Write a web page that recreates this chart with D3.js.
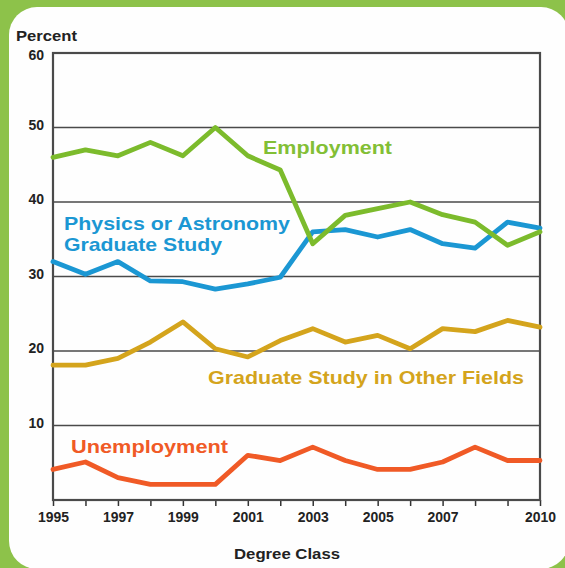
<!DOCTYPE html>
<html><head><meta charset="utf-8">
<script src="https://cdn.jsdelivr.net/npm/d3@7"></script>
<style>body{margin:0;background:#8dc24a;}svg{display:block;}</style>
</head><body>
<svg id="c" width="565" height="568"></svg>
<script>
const years = [1995,1996,1997,1998,1999,2000,2001,2002,2003,2004,2005,2006,2007,2008,2009,2010];
const employment = [46,47,46.2,48,46.2,50,46.2,44.3,34.4,38.2,39.1,40,38.3,37.3,34.2,36];
const physicsGrad = [32,30.3,32,29.4,29.3,28.3,29,29.9,36,36.3,35.3,36.3,34.4,33.8,37.3,36.5];
const otherGrad = [18.1,18.1,19,21.2,23.9,20.3,19.2,21.4,23,21.2,22.1,20.3,23,22.6,24.1,23.2];
const unemployment = [4.1,5.1,3,2.1,2.1,2.1,6,5.3,7.1,5.3,4.1,4.1,5.1,7.1,5.3,5.3];
const yTicks = [10,20,30,40,50,60];
const xTickLabels = [1995,1997,1999,2001,2003,2005,2007,2010];

const svg = d3.select("#c");
svg.append("rect").attr("width",565).attr("height",568).attr("fill","#8dc24a");
svg.append("rect").attr("x",9).attr("y",7).attr("width",560).attr("height",562).attr("rx",28).attr("fill","#fefefe");

const L=53,R=540,T=53,B=500;
const x = d3.scaleLinear().domain([1995,2010]).range([L,R]);
const y = d3.scaleLinear().domain([0,60]).range([B,T]);
const font = "'Liberation Sans', Arial, Helvetica, sans-serif";

// gridlines
svg.append("g").selectAll("line").data(yTicks.filter(d=>d<60)).join("line")
  .attr("x1",L).attr("x2",R).attr("y1",d=>y(d)).attr("y2",d=>y(d))
  .attr("stroke","#4a4a4a").attr("stroke-width",1.6);

// y labels
svg.append("g").selectAll("text").data(yTicks).join("text")
  .attr("x",44).attr("y",d=>y(d)+(d===60?7:2)).attr("text-anchor","end")
  .attr("font-family",font).attr("font-weight","bold").attr("font-size",14)
  .attr("fill","#222").text(d=>d);

// x axis ticks
const xAxis = d3.axisBottom(x).tickValues(years).tickSize(6).tickFormat(d=>xTickLabels.includes(d)?d:"");
const gx = svg.append("g").attr("transform",`translate(0,${B})`).call(xAxis);
gx.select(".domain").remove();
gx.selectAll(".tick line").attr("stroke","#333").attr("stroke-width",1.5);
gx.selectAll(".tick text").attr("font-family",font).attr("font-weight","bold").attr("font-size",14)
  .attr("fill","#222").attr("dy","0.95em").attr("textLength",d=>xTickLabels.includes(d)?31:null).attr("lengthAdjust","spacingAndGlyphs");

// frame
svg.append("rect").attr("x",L).attr("y",T).attr("width",R-L).attr("height",B-T)
  .attr("fill","none").attr("stroke","#4a4a4a").attr("stroke-width",2.2);

const line = d3.line().x((d,i)=>x(years[i])).y(d=>y(d));
const series = [
  {v:otherGrad,c:"#d4a41c"},
  {v:unemployment,c:"#f05a26"},
  {v:physicsGrad,c:"#1b97d3"},
  {v:employment,c:"#7cbb2c"}
];
svg.append("g").selectAll("path").data(series).join("path")
  .attr("d",d=>line(d.v)).attr("fill","none").attr("stroke",d=>d.c)
  .attr("stroke-width",4.8).attr("stroke-linejoin","round").attr("stroke-linecap","round");

// labels
const labels = [
  {t:"Employment",x:263,y:154,w:129,c:"#82bf35"},
  {t:"Physics or Astronomy",x:64,y:230,w:226,c:"#1b97d3"},
  {t:"Graduate Study",x:64,y:251,w:158,c:"#1b97d3"},
  {t:"Graduate Study in Other Fields",x:208,y:384,w:316,c:"#d4a41c"},
  {t:"Unemployment",x:71,y:453,w:157,c:"#f05a26"}
];
svg.append("g").selectAll("text").data(labels).join("text")
  .attr("x",d=>d.x).attr("y",d=>d.y).attr("fill",d=>d.c)
  .attr("font-family",font).attr("font-weight","bold").attr("font-size",19)
  .attr("textLength",d=>d.w).attr("lengthAdjust","spacingAndGlyphs").text(d=>d.t);

svg.append("text").attr("x",16).attr("y",41).attr("font-family",font).attr("font-weight","bold")
  .attr("font-size",14).attr("fill","#222").attr("textLength",61).attr("lengthAdjust","spacingAndGlyphs").text("Percent");
svg.append("text").attr("x",287).attr("y",559).attr("text-anchor","middle").attr("font-family",font).attr("font-weight","bold")
  .attr("font-size",15).attr("fill","#222").attr("textLength",106).attr("lengthAdjust","spacingAndGlyphs").text("Degree Class");
</script>
</body></html>
